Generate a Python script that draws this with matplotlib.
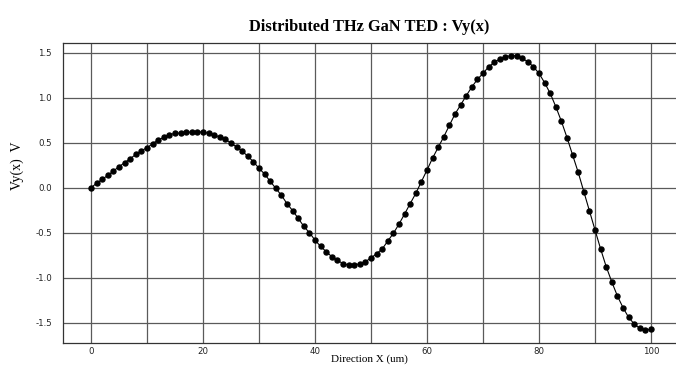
import matplotlib
matplotlib.use("Agg")
import matplotlib.pyplot as plt
import numpy as np

title = "Distributed THz GaN TED : Vy(x)"
xlabel = "Direction X (um)"
ylabel = "Vy(x)  V"

x = list(range(0, 101))
vy = [0.000, 0.049, 0.093, 0.137, 0.185, 0.234, 0.278, 0.322, 0.370, 0.411,
      0.444, 0.489, 0.530, 0.559, 0.589, 0.604, 0.607, 0.614, 0.619, 0.619,
      0.619, 0.604, 0.585, 0.563, 0.537, 0.497, 0.452, 0.408, 0.348, 0.289,
      0.215, 0.152, 0.070, -0.007, -0.085, -0.177, -0.255, -0.340, -0.430, -0.500,
      -0.583, -0.652, -0.711, -0.767, -0.807, -0.844, -0.859, -0.855, -0.848, -0.822,
      -0.781, -0.733, -0.681, -0.592, -0.507, -0.404, -0.292, -0.176, -0.063, 0.068,
      0.196, 0.330, 0.448, 0.567, 0.693, 0.819, 0.919, 1.022, 1.119, 1.204,
      1.270, 1.344, 1.393, 1.430, 1.456, 1.467, 1.467, 1.437, 1.400, 1.344,
      1.270, 1.167, 1.048, 0.900, 0.737, 0.556, 0.363, 0.170, -0.044, -0.257,
      -0.470, -0.681, -0.878, -1.048, -1.204, -1.333, -1.441, -1.515, -1.563, -1.581,
      -1.574]

xticks = [0, 20, 40, 60, 80, 100]
xminor = [10, 30, 50, 70, 90]
yticks = [-1.5, -1.0, -0.5, 0.0, 0.5, 1.0, 1.5]

fig = plt.figure(figsize=(6.76, 3.74), dpi=100)
ax = fig.add_axes([63/676, 31/374, 1 - 63/676, (343-43)/374])

grid_color = "#5a5a5a"
for gx in xticks + xminor:
    ax.axvline(gx, color=grid_color, lw=0.9, zorder=1)
for gy in yticks:
    ax.axhline(gy, color=grid_color, lw=0.9, zorder=1)

ax.plot(x, vy, color="black", lw=0.8, marker="o", markersize=3.6,
        markerfacecolor="black", markeredgecolor="black", zorder=3)

ax.set_xlim(-5.0, 104.46)
ax.set_ylim(-1.726, 1.608)
ax.set_xticks(xticks)
ax.set_xticklabels([str(v) for v in xticks])
ax.set_yticks(yticks)
ax.set_yticklabels(["%.1f" % v for v in yticks])
ax.tick_params(length=0, labelsize=6.2, colors="#222222")
ax.tick_params(axis="x", pad=3)
ax.tick_params(axis="y", pad=8)
for lab in ax.get_xticklabels() + ax.get_yticklabels():
    lab.set_family("DejaVu Sans")

for side in ["left", "bottom", "top"]:
    ax.spines[side].set_color("#333333")
    ax.spines[side].set_linewidth(0.9)
ax.spines["right"].set_visible(False)

fig.text(0.5 * (63/676 + 1), 1 - 359/374, xlabel, family="Liberation Serif",
         fontsize=8, ha="center", va="center")
fig.text(17/676, 1 - 166/374, ylabel, family="Liberation Serif", fontsize=10,
         rotation=90, ha="center", va="center")
fig.text(0.5 * (63/676 + 1), 1 - 27/374, title, family="Liberation Serif",
         fontweight="bold", fontsize=11.8, ha="center", va="center")

fig.savefig("out.png", dpi=100)
